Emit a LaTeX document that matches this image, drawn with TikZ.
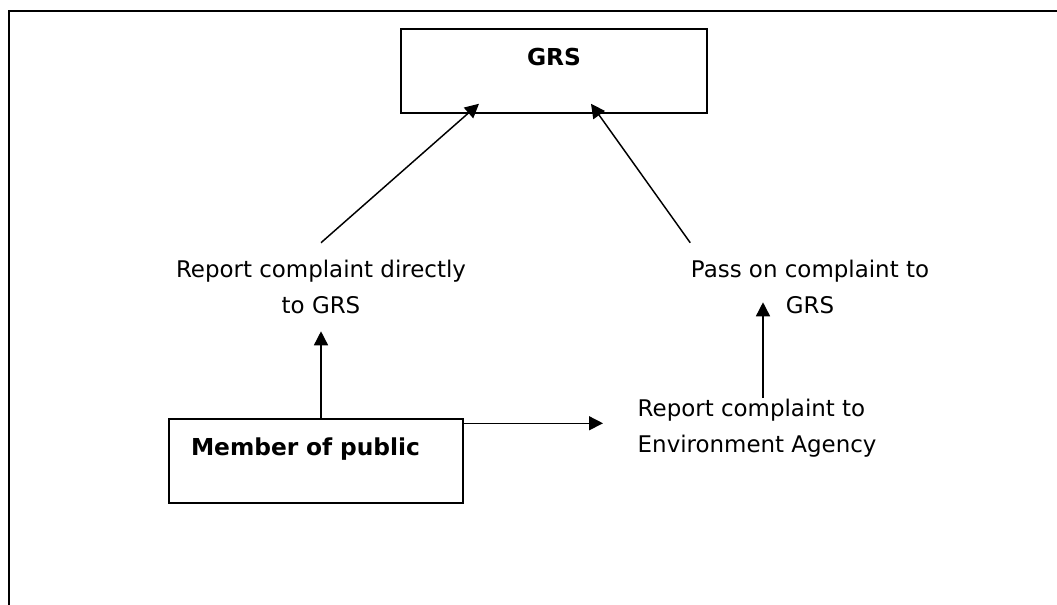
\documentclass[tikz,border=0pt]{standalone}
\usepackage{fontspec}
\setmainfont{DejaVu Sans}
\usetikzlibrary{arrows.meta}

\begin{document}
\begin{tikzpicture}[x=0.75pt, y=-0.75pt, line width=1.1pt, >={Triangle[length=10.5pt,width=10.5pt]}, main/.style = {draw, rectangle, inner sep=0pt, font=\fontsize{17.5}{20}\selectfont\bfseries}, txt/.style = {inner xsep=0pt, inner ysep=12.5pt, font=\fontsize{17.2}{27}\selectfont}]
\useasboundingbox (0,0) rectangle (1057,604);
\draw[line width=1.5pt] (1065,11) -- (9,11) -- (9,612);
\node[main, minimum width=229.5pt, text height=27pt, text depth=36pt] (1) at (554,71) {GRS};
\node[txt, align=center] (2) at (321,287) {Report complaint directly\\to GRS};
\node[txt, align=center] (3) at (810,287) {Pass on complaint to\\GRS};
\node[main, inner xsep=16.5pt, text width=187.5pt, align=left, text height=27pt, text depth=36pt] (4) at (316,461) {Member of public};
\node[txt, align=left, anchor=north west, inner ysep=0pt] (5) at (637,398) {Report complaint to\\Environment Agency};
\draw[->] (4.north -| 2.south) -- (2.south);
\draw[->] (2.north) -- ([xshift=-56.25pt, yshift=7.5pt]1.south);
\draw[->] (3.north west) -- ([xshift=27.75pt, yshift=7.5pt]1.south);
\draw[->] ([xshift=94.5pt]5.north west) -- ([xshift=-35.25pt, yshift=21.75pt]3.south);
\draw[->, shorten >=25.5pt] ([yshift=-3.75pt]4.north east) -- ([yshift=-3.75pt]4.north east -| 5.west);
\end{tikzpicture}
\end{document}
